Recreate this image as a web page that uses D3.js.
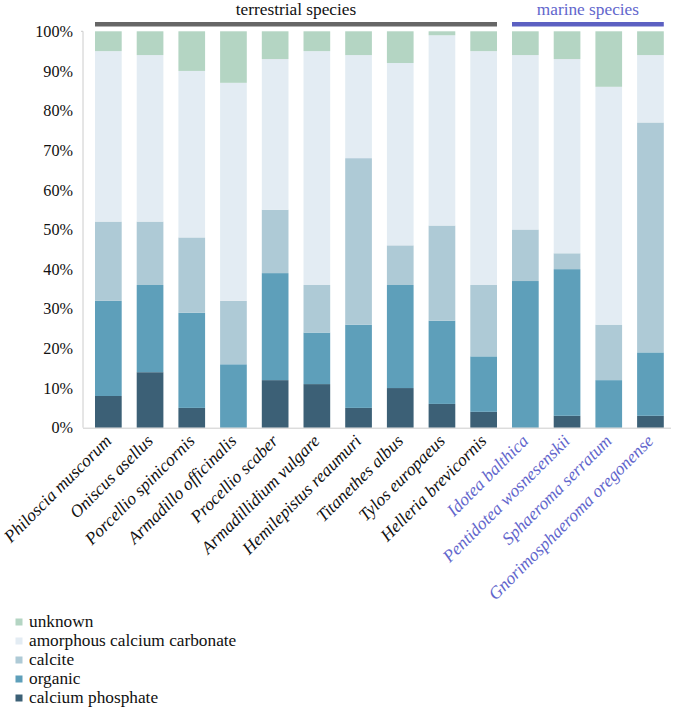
<!DOCTYPE html>
<html><head><meta charset="utf-8">
<script src="https://cdn.jsdelivr.net/npm/d3@7"></script>
<style>body{margin:0;background:#fff}svg{display:block}</style>
</head><body><svg id="c" width="673" height="708"></svg>
<script>
const species = ["Philoscia muscorum","Oniscus asellus","Porcellio spinicornis","Armadillo officinalis","Procellio scaber","Armadillidium vulgare","Hemilepistus reaumuri","Titanethes albus","Tylos europaeus","Helleria brevicornis","Idotea balthica","Pentidotea wosnesenskii","Sphaeroma serratum","Gnorimosphaeroma oregonense"];
const habitat = ["terrestrial","terrestrial","terrestrial","terrestrial","terrestrial","terrestrial","terrestrial","terrestrial","terrestrial","terrestrial","marine","marine","marine","marine"];
const calciumPhosphate = [8,14,5,0,12,11,5,10,6,4,0,3,0,3];
const organic          = [24,22,24,16,27,13,21,26,21,14,37,37,12,16];
const calcite          = [20,16,19,16,16,12,42,10,24,18,13,4,14,58];
const acc              = [43,42,42,55,38,59,26,46,48,59,44,49,60,17];
const unknown          = [5,6,10,13,7,5,6,8,1,5,6,7,14,6];
const seriesNames = ["calcium phosphate","organic","calcite","amorphous calcium carbonate","unknown"];
const seriesColors = ["#3c6076","#5e9fba","#aecad6","#e3ecf3","#b4d5c3"];
const yTicks = [0,10,20,30,40,50,60,70,80,90,100];
const groups = [{name:"terrestrial species",key:"terrestrial",color:"#666666",text:"#111"},{name:"marine species",key:"marine",color:"#5c60c2",text:"#6266cc"}];

const FONT = "'Liberation Serif', 'Times New Roman', Tinos, 'DejaVu Serif', serif";
const series = [calciumPhosphate, organic, calcite, acc, unknown];
const rows = species.map((s,i)=>{const r={species:s}; seriesNames.forEach((n,j)=>r[n]=series[j][i]); return r;});
const stack = d3.stack().keys(seriesNames)(rows);

const svg = d3.select("#c");
const x = d3.scaleBand().domain(species).range([87.5,671.3]).paddingInner(0.36).paddingOuter(0.18);
const y = d3.scaleLinear().domain([0,100]).range([427.7,31.3]);

svg.append("g").selectAll("g").data(stack).join("g").attr("fill",(d,i)=>seriesColors[i])
  .selectAll("rect").data(d=>d).join("rect")
  .attr("x",d=>x(d.data.species)).attr("width",x.bandwidth())
  .attr("y",d=>y(d[1])).attr("height",d=>Math.max(0,y(d[0])-y(d[1])));

svg.append("line").attr("x1",83).attr("x2",83).attr("y1",y(100)).attr("y2",y(0)).attr("stroke","#cccccc");
svg.append("line").attr("x1",81).attr("x2",83).attr("y1",y(100)).attr("y2",y(100)).attr("stroke","#cccccc");
svg.append("line").attr("x1",83).attr("x2",671).attr("y1",y(0)+0.5).attr("y2",y(0)+0.5).attr("stroke","#cccccc");
const ya = d3.axisLeft(y).tickValues(yTicks).tickFormat(d=>d+"%").tickSize(0).tickPadding(0);
const yg = svg.append("g").attr("transform","translate(73,0)").call(ya);
yg.select(".domain").remove();
yg.selectAll("text").style("font-size","16.2px").style("fill","#111").style("font-family",FONT);

svg.append("g").selectAll("text").data(species).join("text")
  .attr("transform",(d)=>`translate(${x(d)+x.bandwidth()/2+4},${442}) rotate(-45)`)
  .attr("text-anchor","end").style("font-size","17.5px").style("font-style","italic").style("font-family",FONT)
  .style("fill",(d,i)=>habitat[i]==="marine"?"#6266cc":"#111").text(d=>d);

groups.forEach(g=>{
  const idx = species.map((s,i)=>i).filter(i=>habitat[i]===g.key);
  const x0 = x(species[idx[0]]), x1 = x(species[idx[idx.length-1]])+x.bandwidth();
  svg.append("rect").attr("x",x0).attr("y",22).attr("width",x1-x0).attr("height",4.5).attr("fill",g.color);
  svg.append("text").attr("x",(x0+x1)/2).attr("y",15).attr("text-anchor","middle").style("font-size","17.3px").style("font-family",FONT).style("fill",g.text).text(g.name);
});

const legendOrder = [4,3,2,1,0];
const lg = svg.append("g");
legendOrder.forEach((si,k)=>{
  const cy = 622 + k*19;
  lg.append("rect").attr("x",15.5).attr("y",cy-3.5).attr("width",7).attr("height",7).attr("fill",seriesColors[si]);
  lg.append("text").attr("x",29).attr("y",cy+5).style("font-size","17.3px").style("font-family",FONT).style("fill","#111").text(seriesNames[si]);
});
</script></body></html>
